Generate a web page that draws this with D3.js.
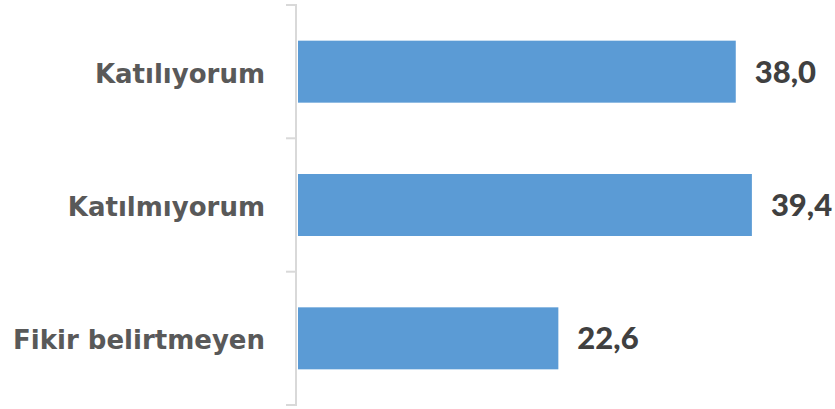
<!DOCTYPE html>
<html><head><meta charset="utf-8">
<script src="https://cdn.jsdelivr.net/npm/d3@7"></script>
<style>body{margin:0;background:#fff;}svg{display:block;}</style>
</head><body>
<svg id="c" width="835" height="409"></svg>
<script>
const categories = ["Katılıyorum", "Katılmıyorum", "Fikir belirtmeyen"];
const values = [38.0, 39.4, 22.6];
const valueLabels = ["38,0", "39,4", "22,6"];

const svg = d3.select("#c");
const x = d3.scaleLinear().domain([0, 45]).range([298, 298 + 45 * 11.52]);
const y = d3.scaleBand().domain(categories).range([5, 405]).paddingInner(0.535).paddingOuter(0.2675);
const catFont = "'DejaVu Sans',sans-serif";
const valFont = "'Lato',sans-serif";

// axis line and ticks
const tickYs = [5, 138.3, 271.7, 405];
svg.append("line").attr("x1", 296).attr("x2", 296).attr("y1", 4).attr("y2", 406)
  .attr("stroke", "#d9d9d9").attr("stroke-width", 2);
svg.selectAll(".tk").data(tickYs).enter().append("line")
  .attr("x1", 286).attr("x2", 296).attr("y1", d => d).attr("y2", d => d)
  .attr("stroke", "#d9d9d9").attr("stroke-width", 2);

svg.selectAll(".bar").data(categories).enter().append("rect")
  .attr("x", x(0)).attr("y", d => y(d))
  .attr("width", (d, i) => x(values[i]) - x(0)).attr("height", y.bandwidth())
  .attr("fill", "#5b9bd5");

svg.selectAll(".cat").data(categories).enter().append("text")
  .attr("x", 265).attr("y", d => y(d) + y.bandwidth() / 2 + 11)
  .attr("text-anchor", "end").attr("font-family", catFont).attr("font-weight", "bold")
  .attr("font-size", 26).attr("fill", "#595959").text(d => d);

svg.selectAll(".val").data(categories).enter().append("text")
  .attr("x", (d, i) => x(values[i]) + 19).attr("y", d => y(d) + y.bandwidth() / 2 + 11)
  .attr("font-family", valFont).attr("font-weight", 900)
  .attr("font-size", 31).attr("fill", "#404040").text((d, i) => valueLabels[i]);
</script>
</body></html>
